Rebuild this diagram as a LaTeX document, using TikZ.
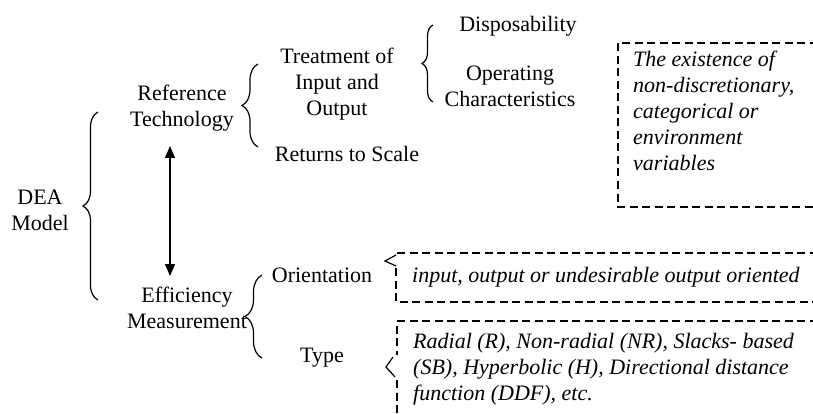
\documentclass[tikz,border=0pt]{standalone}
\usepackage{fontspec}
\setmainfont{Liberation Serif}
\usetikzlibrary{decorations.pathreplacing,arrows.meta}
\begin{document}
\begin{tikzpicture}[x=1pt,y=-1pt,
  lbl/.style={font=\fontsize{22}{26}\selectfont, inner sep=0pt, align=center, anchor=base},
  itx/.style={font=\fontsize{22}{26}\selectfont\itshape, inner sep=0pt, align=left, anchor=base west},
  brc/.style={decorate, decoration={brace, amplitude=#1}, line width=1.2pt},
  dsh/.style={line width=1.2pt, dash pattern=on 8pt off 4.5pt},
  ptr/.style={line width=1.2pt},
  dbl/.style={line width=1.1pt, {Triangle[length=12pt,width=10pt]}-{Triangle[length=12pt,width=10pt]}}]
\useasboundingbox (0,0) rectangle (813,414);
\clip (0,0) rectangle (813,414);
% text nodes (anchor = baseline of the last line)
\node[lbl] (dea) at (40,230) {DEA\\Model};
\node[lbl] (rt) at (182,127) {Reference\\Technology};
\node[lbl] (tio) at (337,116) {Treatment of\\Input and\\Output};
\node[lbl] (rts) at (347,162) {Returns to Scale};
\node[lbl] (disp) at (518,32) {Disposability};
\node[lbl] (opc) at (510,107) {Operating\\Characteristics};
\node[lbl] (em) at (187,328) {Efficiency\\Measurement};
\node[lbl] (ori) at (322,282) {Orientation};
\node[lbl] (typ) at (322,362) {Type};
\node[itx] (env) at (633,171) {The existence of\\non-discretionary,\\categorical or\\environment\\variables};
\node[itx] (oriv) at (412,282) {input, output or undesirable output oriented};
\node[itx] (typv) at (413,400) {Radial (R), Non-radial (NR), Slacks- based\\(SB), Hyperbolic (H), Directional distance\\function (DDF), etc.};
% braces
\draw[brc=15pt] (98,300) -- (98,112);
\draw[brc=16pt] (258,147) -- (258,64);
\draw[brc=11pt] (433,102) -- (433,25);
\draw[brc=17pt] (262,358) -- (262,275);
% double arrow
\coordinate (a1) at (170,146);
\coordinate (a2) at (170,276);
\draw[dbl] (a1) -- (a2);
% dashed boxes
\draw[dsh] (830,43) -- (618,43) -- (618,207) -- (830,207);
\draw[dsh] (830,253) -- (396,253) -- (396,255);
\draw[ptr] (396,255) -- (385,261) -- (396,266);
\draw[dsh] (396,268) -- (396,302) -- (830,302);
\draw[dsh] (830,321) -- (397,321) -- (397,355);
\draw[ptr] (393,357) -- (386,367) -- (395,377);
\draw[dsh] (397,380) -- (397,420);
\end{tikzpicture}
\end{document}
